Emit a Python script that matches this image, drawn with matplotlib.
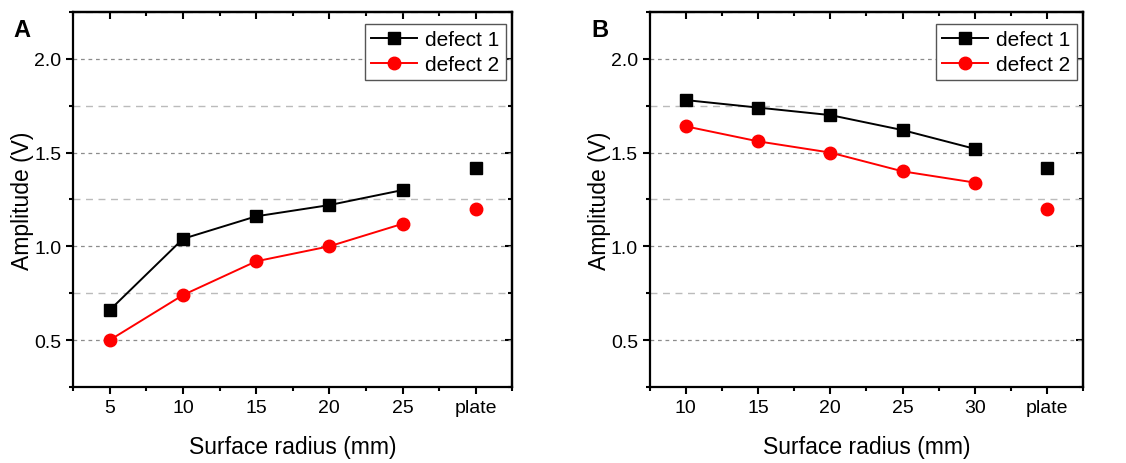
import matplotlib.pyplot as plt
from matplotlib.ticker import MultipleLocator, FormatStrFormatter

plt.rcParams['font.family'] = ['Liberation Sans', 'DejaVu Sans']

# panel A
radius_a = [5, 10, 15, 20, 25]
defect1_a = [0.66, 1.04, 1.16, 1.22, 1.30]
defect2_a = [0.50, 0.74, 0.92, 1.00, 1.12]

# panel B
radius_b = [10, 15, 20, 25, 30]
defect1_b = [1.78, 1.74, 1.70, 1.62, 1.52]
defect2_b = [1.64, 1.56, 1.50, 1.40, 1.34]

# flat plate reference (same in both panels)
plate_d1 = 1.42
plate_d2 = 1.20

fig = plt.figure(figsize=(11.26, 4.64), dpi=100)
ax_a = fig.add_axes([0.065, 0.164, 0.390, 0.808])
ax_b = fig.add_axes([0.577, 0.164, 0.385, 0.808])


def draw_panel(ax, radius, d1, d2, letter):
    plate_x = radius[-1] + 5
    ax.plot(radius, d1, '-s', color='black', lw=1.4, ms=8, label='defect 1', zorder=3)
    ax.plot(radius, d2, '-o', color='red', lw=1.4, ms=9, label='defect 2', zorder=3)
    ax.plot([plate_x], [plate_d1], 's', color='black', ms=8, zorder=3)
    ax.plot([plate_x], [plate_d2], 'o', color='red', ms=9, zorder=3)

    ax.set_xlim(radius[0] - 2.5, plate_x + 2.5)
    ax.set_ylim(0.25, 2.25)
    ax.set_xticks(radius + [plate_x])
    ax.set_xticklabels([str(r) for r in radius] + ['plate'])
    ax.xaxis.set_minor_locator(MultipleLocator(2.5))
    ax.yaxis.set_major_locator(MultipleLocator(0.5))
    ax.yaxis.set_minor_locator(MultipleLocator(0.25))
    ax.yaxis.set_major_formatter(FormatStrFormatter('%.1f'))

    ax.grid(axis='y', which='major', color='#8c8c8c', linestyle=(0, (3, 3)), lw=0.9)
    ax.grid(axis='y', which='minor', color='#bbbbbb', linestyle=(0, (5, 4)), lw=1.0)
    ax.set_axisbelow(True)

    for s in ax.spines.values():
        s.set_linewidth(1.6)
    ax.tick_params(axis='both', which='major', labelsize=14, width=1.5, length=5)
    ax.tick_params(axis='both', which='minor', width=1.5, length=3)
    ax.tick_params(axis='x', which='both', direction='out', top=False)
    ax.tick_params(axis='y', which='both', direction='out', right=False)

    ax.set_xlabel('Surface radius (mm)', fontsize=16.5, labelpad=14)
    ax.set_ylabel('Amplitude (V)', fontsize=16.5, labelpad=0)

    leg = ax.legend(loc='upper right', bbox_to_anchor=(0.995, 0.98), fontsize=15,
                    fancybox=False, framealpha=1, edgecolor='#555555',
                    handlelength=2.2, handletextpad=0.4, borderpad=0.3,
                    labelspacing=0.3, borderaxespad=0.2)
    leg.get_frame().set_linewidth(1.0)

    ax.text(-0.135, 0.985, letter, transform=ax.transAxes, fontsize=17,
            fontweight='bold', ha='left', va='top')

    # top/right ticks point inward in the reference
    sec_x = ax.secondary_xaxis('top')
    sec_x.set_xticks(radius + [plate_x])
    sec_x.xaxis.set_minor_locator(MultipleLocator(2.5))
    sec_x.tick_params(which='both', direction='in', labeltop=False, width=1.5)
    sec_x.tick_params(which='major', length=5)
    sec_x.tick_params(which='minor', length=3)
    sec_y = ax.secondary_yaxis('right')
    sec_y.yaxis.set_major_locator(MultipleLocator(0.5))
    sec_y.yaxis.set_minor_locator(MultipleLocator(0.25))
    sec_y.tick_params(which='both', direction='in', labelright=False, width=1.5)
    sec_y.tick_params(which='major', length=5)
    sec_y.tick_params(which='minor', length=3)
    for s in list(sec_x.spines.values()) + list(sec_y.spines.values()):
        s.set_linewidth(1.6)


draw_panel(ax_a, radius_a, defect1_a, defect2_a, 'A')
draw_panel(ax_b, radius_b, defect1_b, defect2_b, 'B')

fig.savefig('out.png', dpi=100)
